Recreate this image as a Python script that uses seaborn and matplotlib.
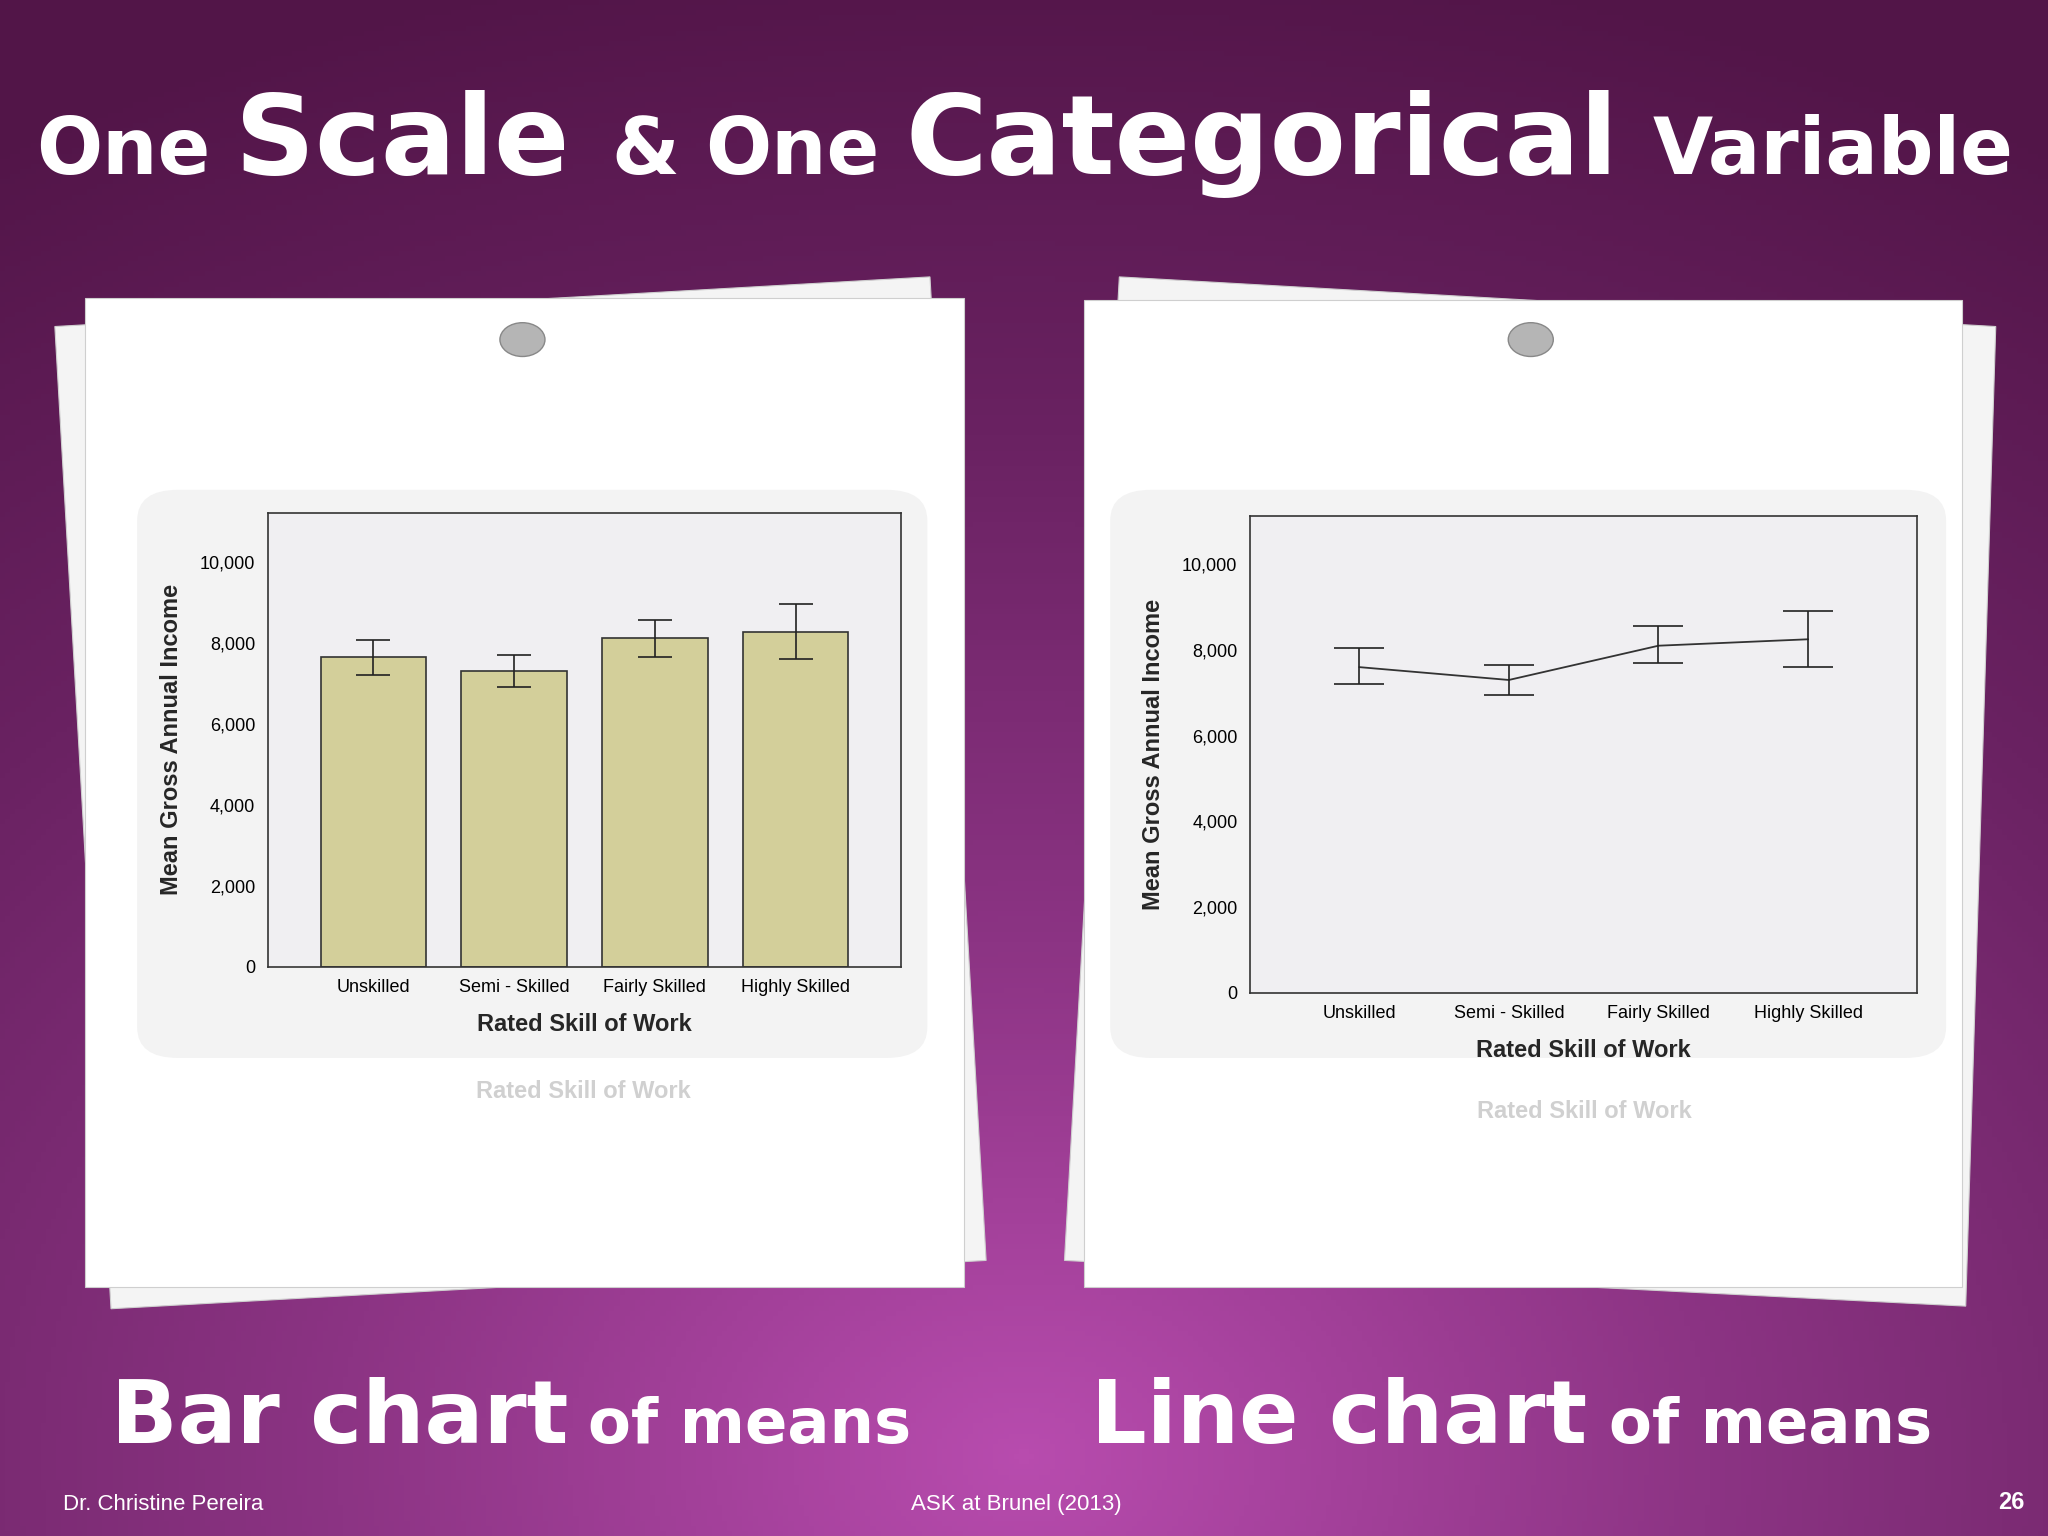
import numpy as np
import matplotlib.pyplot as plt
import seaborn as sns
from matplotlib.patches import Polygon, FancyBboxPatch

categories = ["Unskilled", "Semi - Skilled", "Fairly Skilled", "Highly Skilled"]
bar_means = [7650, 7300, 8100, 8250]
bar_low = [7200, 6900, 7650, 7600]
bar_high = [8050, 7700, 8550, 8950]
line_means = [7600, 7300, 8100, 8250]
line_low = [7200, 6950, 7700, 7600]
line_high = [8050, 7650, 8550, 8900]
yticks = [0, 2000, 4000, 6000, 8000, 10000]

sns.set_style("white")
plt.rcParams["font.family"] = ["Liberation Sans", "DejaVu Sans"]

W, H = 1568, 1176
fig = plt.figure(figsize=(20.48, 15.36), dpi=100)

# purple background: dark at top, magenta glow at bottom centre
bg = fig.add_axes([0, 0, 1, 1])
yy, xx = np.mgrid[0:1:300j, 0:1:400j]
r = np.sqrt((xx - 0.5) ** 2 + ((yy - 0.95) * 1.0) ** 2)
cmap = plt.matplotlib.colors.LinearSegmentedColormap.from_list("p", ["#b84cae", "#8c3484", "#6a2262", "#521548"])
bg.imshow(r, cmap=cmap, extent=[0, 1, 0, 1], aspect="auto", origin="upper", vmin=0, vmax=1.0)
bg.set_axis_off()


def fx(x):
    return x / W


def fy(y):
    return 1 - y / H


def poly(pts, color, z=1):
    fig.add_artist(Polygon([(fx(a), fy(b)) for a, b in pts], closed=True,
                           transform=fig.transFigure, facecolor=color, edgecolor="#cfcfcf", lw=0.8, zorder=z))


# papers
poly([(42, 250), (712, 212), (755, 965), (85, 1002)], "#f4f4f4")
poly([(65, 228), (738, 228), (738, 985), (65, 985)], "white", 2)
poly([(857, 212), (1528, 250), (1505, 1000), (815, 965)], "#f4f4f4")
poly([(830, 230), (1502, 230), (1502, 985), (830, 985)], "white", 2)
for px, py in [(400, 260), (1172, 260)]:
    fig.add_artist(plt.Circle((fx(px), fy(py)), 0.011, transform=fig.transFigure,
                              color="#b5b5b5", ec="#888888", zorder=3))
for x0, x1 in [(105, 710), (850, 1490)]:
    fig.add_artist(FancyBboxPatch((fx(x0), fy(810)), fx(x1 - x0), (810 - 375) / H,
                                  boxstyle="round,pad=0,rounding_size=0.02",
                                  transform=fig.transFigure, facecolor="#f3f3f3", edgecolor="none", zorder=2.5))


def style(ax, top):
    ax.set_facecolor("#f0eff2")
    ax.set_ylim(0, top)
    ax.set_yticks(yticks)
    ax.set_yticklabels([f"{v:,}" for v in yticks])
    ax.tick_params(axis="both", direction="out", length=7, width=1, colors="black", labelsize=13, pad=2)
    for s in ax.spines.values():
        s.set_color("#333333")
        s.set_linewidth(1.2)
    ax.set_xlabel("Rated Skill of Work", fontsize=17, fontweight="bold", labelpad=12)
    ax.set_ylabel("Mean Gross Annual Income", fontsize=17, fontweight="bold", labelpad=12)
    ax.set_zorder(4)


# bar chart
ax1 = fig.add_axes([fx(205), fy(740), fx(485), 347 / H])
x = np.arange(len(categories))
sns.barplot(x=categories, y=bar_means, ax=ax1, color="#d3cf9a", edgecolor="#333333", linewidth=1.2,
            width=0.75, saturation=1)
ax1.errorbar(x, bar_means, yerr=[np.subtract(bar_means, bar_low), np.subtract(bar_high, bar_means)],
             fmt="none", ecolor="#222222", elinewidth=1.2, capsize=12, capthick=1.2)
style(ax1, 11190)
ax1.set_xlim(-0.75, 3.75)

# line chart
ax2 = fig.add_axes([fx(957), fy(760), fx(511), 365 / H])
sns.lineplot(x=x, y=line_means, ax=ax2, color="#333333", linewidth=1.3)
ax2.errorbar(x, line_means, yerr=[np.subtract(line_means, line_low), np.subtract(line_high, line_means)],
             fmt="none", ecolor="#222222", elinewidth=1.2, capsize=18, capthick=1.2)
style(ax2, 11130)
ax2.set_xticks(x)
ax2.set_xticklabels(categories)
ax2.set_xlim(-0.73, 3.73)

# faint reflections
for cx, cy in [(447, 836), (1213, 851)]:
    fig.text(fx(cx), fy(cy), "Rated Skill of Work", fontsize=17, fontweight="bold", color="#d0d0d0",
             ha="center", va="center", zorder=5)

# titles
kw = dict(color="white", fontweight="bold", family=["DejaVu Sans"], va="baseline", zorder=6)
segs = [(28, "One", 56), (180, "Scale", 80), (468, "&", 56), (540, "One", 56),
        (693, "Categorical", 80), (1265, "Variable", 56)]
for px, t, s in segs:
    fig.text(fx(px), fy(133), t, fontsize=s, **kw)
fig.text(fx(85), fy(1105), "Bar chart", fontsize=63, **kw)
fig.text(fx(450), fy(1105), "of means", fontsize=45, **kw)
fig.text(fx(835), fy(1105), "Line chart", fontsize=63, **kw)
fig.text(fx(1232), fy(1105), "of means", fontsize=45, **kw)
fig.text(fx(48), fy(1152), "Dr. Christine Pereira", fontsize=16, color="white", va="center")
fig.text(fx(778), fy(1152), "ASK at Brunel (2013)", fontsize=16, color="white", va="center", ha="center")
fig.text(fx(1550), fy(1150), "26", fontsize=17, color="white", va="center", ha="right", fontweight="bold")

fig.savefig("out.png", dpi=100)
